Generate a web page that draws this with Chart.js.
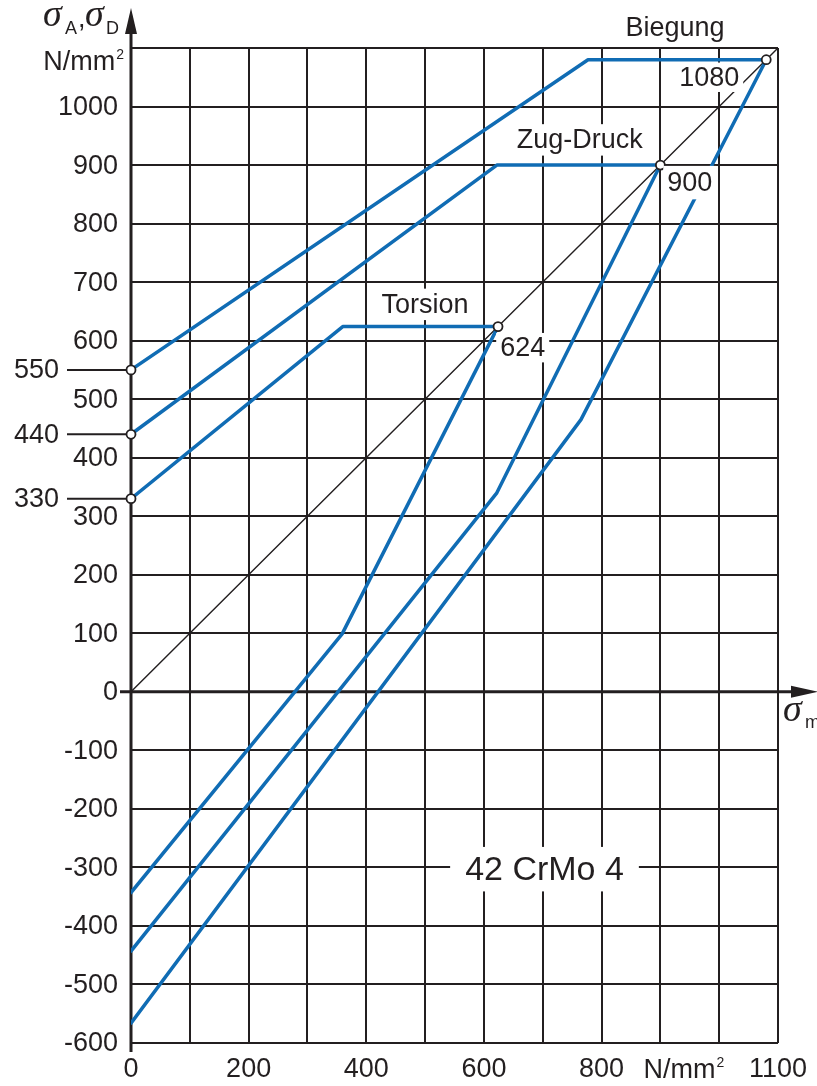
<!DOCTYPE html>
<html>
<head>
<meta charset="utf-8">
<script src="https://cdn.jsdelivr.net/npm/chart.js@4/dist/chart.umd.min.js"></script>
<style>
  html, body { margin: 0; padding: 0; background: #fff; }
  #wrap { width: 817px; height: 1086px; position: relative; }
</style>
</head>
<body>
<div id="wrap"><canvas id="smith"></canvas></div>
<script>
// Dauerfestigkeitsschaubild nach Smith – 42 CrMo 4 (σm gegen σA, σD in N/mm²)

// Grenzlinien je Beanspruchungsart: oben (σW -> Knick -> Fließgrenze), unten zurück bis σm = 0
const torsionX  = [0, 360, 624, 359, 0];
const torsionY  = [330, 624, 624, 99, -343];
const zugDruckX = [0, 622, 900, 622, 0];
const zugDruckY = [440, 900, 900, 340, -443];
const biegungX  = [0, 777, 1080, 765, 0];
const biegungY  = [550, 1080, 1080, 465, -566];

// 45°-Linie σ = σm
const diagonalX = [0, 1100];
const diagonalY = [0, 1100];

// Kennpunkte (offene Kreise)
const markerX = [0, 0, 0, 624, 900, 1080];
const markerY = [550, 440, 330, 624, 900, 1080];

// Achsbeschriftungen
const yTickValues = [-600, -500, -400, -300, -200, -100, 0, 100, 200, 300, 400, 500, 600, 700, 800, 900, 1000];
const xTickValues = [0, 200, 400, 600, 800, 1100];
const sideValues  = [550, 440, 330];

const INK = '#231f20';
const BLUE = '#106cb4';
const SANS = '"Liberation Sans", Arial, Helvetica, sans-serif';
const SERIF = '"Liberation Serif", "Times New Roman", serif';

const pts = (xs, ys) => xs.map((v, i) => ({ x: v, y: ys[i] }));

// Beschriftungen im Diagramm, mit weißem Hintergrund (Lage in Achswerten)
const notes = [
  { text: 'Biegung',   x: 925, y: 1135, padX: 4,  padY: 5, size: 27 },
  { text: '1080',      x: 983, y: 1050, padX: 4,  padY: 5, size: 27 },
  { text: 'Zug-Druck', x: 763, y: 943,  padX: 5,  padY: 6, size: 27 },
  { text: '900',       x: 950, y: 870,  padX: 4,  padY: 7, size: 27 },
  { text: 'Torsion',   x: 500, y: 662,  padX: 5,  padY: 6, size: 27 },
  { text: '624',       x: 666, y: 588,  padX: 4,  padY: 5, size: 27 },
  { text: '42 CrMo 4', x: 703, y: -303, padX: 15, padY: 10, size: 34 }
];

// Einheit mit kleiner, hochgestellter 2
function drawUnit(ctx, xRight, yMid, centered) {
  ctx.save();
  ctx.textBaseline = 'middle';
  ctx.textAlign = 'left';
  ctx.font = `27px ${SANS}`;
  const w = ctx.measureText('N/mm').width;
  ctx.font = `14px ${SANS}`;
  const w2 = ctx.measureText('2').width;
  const left = centered ? xRight - (w + w2 + 1) / 2 : xRight - w - w2 - 1;
  ctx.font = `27px ${SANS}`;
  ctx.fillText('N/mm', left, yMid + 1);
  ctx.font = `14px ${SANS}`;
  ctx.fillText('2', left + w + 1, yMid - 7);
  ctx.restore();
}

const decorations = {
  id: 'decorations',
  beforeDatasetsDraw(chart) {
    const { ctx, scales: { x, y } } = chart;
    const x0 = x.getPixelForValue(0);
    const y0 = y.getPixelForValue(0);
    ctx.save();
    ctx.strokeStyle = INK;
    ctx.fillStyle = INK;
    ctx.lineCap = 'butt';

    // Ordinate mit Pfeil
    ctx.lineWidth = 3;
    ctx.beginPath();
    ctx.moveTo(x0, y.bottom + 9);
    ctx.lineTo(x0, 30);
    ctx.stroke();
    ctx.beginPath();
    ctx.moveTo(x0, 8);
    ctx.lineTo(x0 - 6, 34);
    ctx.lineTo(x0 + 6, 34);
    ctx.closePath();
    ctx.fill();

    // Abszisse mit Pfeil
    ctx.beginPath();
    ctx.moveTo(x0 - 11, y0);
    ctx.lineTo(794, y0);
    ctx.stroke();
    ctx.beginPath();
    ctx.moveTo(818, y0);
    ctx.lineTo(791, y0 - 6);
    ctx.lineTo(791, y0 + 6);
    ctx.closePath();
    ctx.fill();

    // Hinweislinien für die Wechselfestigkeiten
    ctx.lineWidth = 2;
    sideValues.forEach(v => {
      const py = y.getPixelForValue(v);
      ctx.beginPath();
      ctx.moveTo(67, py);
      ctx.lineTo(x0, py);
      ctx.stroke();
    });
    ctx.restore();
  },
  afterDatasetsDraw(chart) {
    const { ctx, scales: { x, y } } = chart;
    ctx.save();
    ctx.textAlign = 'center';
    ctx.textBaseline = 'middle';
    notes.forEach(n => {
      ctx.font = `${n.size}px ${SANS}`;
      const w = ctx.measureText(n.text).width;
      const h = n.size * 0.72;
      const cx = x.getPixelForValue(n.x);
      const cy = y.getPixelForValue(n.y);
      ctx.fillStyle = '#fff';
      ctx.fillRect(cx - w / 2 - n.padX, cy - h / 2 - n.padY, w + 2 * n.padX, h + 2 * n.padY);
      ctx.fillStyle = INK;
      ctx.fillText(n.text, cx, cy + 1);
    });
    ctx.restore();
  },
  afterDraw(chart) {
    const { ctx, scales: { x, y } } = chart;
    ctx.save();
    ctx.fillStyle = INK;
    ctx.font = `27px ${SANS}`;
    ctx.textBaseline = 'middle';

    // Ordinatenwerte
    ctx.textAlign = 'right';
    yTickValues.forEach(v => ctx.fillText(String(v), x.left - 13, y.getPixelForValue(v) + 1));
    sideValues.forEach(v => ctx.fillText(String(v), 59, y.getPixelForValue(v) + 1));
    drawUnit(ctx, 124, 62, false);

    // Abszissenwerte
    ctx.textAlign = 'center';
    xTickValues.forEach(v => ctx.fillText(String(v), x.getPixelForValue(v), y.bottom + 27));
    drawUnit(ctx, x.getPixelForValue(940), y.bottom + 27, true);

    // Achsentitel σA, σD
    ctx.textAlign = 'left';
    ctx.textBaseline = 'alphabetic';
    ctx.font = `italic 38px ${SERIF}`;
    ctx.fillText('σ', 43, 26);
    ctx.font = `18px ${SANS}`;
    ctx.fillText('A', 65, 34);
    ctx.font = `27px ${SANS}`;
    ctx.fillText(',', 78, 27);
    ctx.font = `italic 38px ${SERIF}`;
    ctx.fillText('σ', 85, 26);
    ctx.font = `18px ${SANS}`;
    ctx.fillText('D', 106, 34);

    // Achsentitel σm
    ctx.font = `italic 38px ${SERIF}`;
    ctx.fillText('σ', 783, 721);
    ctx.font = `18px ${SANS}`;
    ctx.fillText('m', 805, 728);
    ctx.restore();
  }
};

const lineStyle = {
  showLine: true,
  fill: false,
  tension: 0,
  pointRadius: 0,
  pointHoverRadius: 0,
  borderColor: BLUE,
  borderWidth: 3.5,
  borderJoinStyle: 'round',
  borderCapStyle: 'round'
};

new Chart(document.getElementById('smith'), {
  type: 'scatter',
  data: {
    datasets: [
      {
        label: 'Kennpunkte',
        data: pts(markerX, markerY),
        showLine: false,
        pointRadius: 4.5,
        pointBackgroundColor: '#fff',
        pointBorderColor: INK,
        pointBorderWidth: 1.8,
        clip: false
      },
      { label: 'Torsion',   data: pts(torsionX, torsionY),   ...lineStyle },
      { label: 'Zug-Druck', data: pts(zugDruckX, zugDruckY), ...lineStyle },
      { label: 'Biegung',   data: pts(biegungX, biegungY),   ...lineStyle },
      {
        label: 'σ = σm',
        data: pts(diagonalX, diagonalY),
        ...lineStyle,
        borderColor: INK,
        borderWidth: 1.4
      }
    ]
  },
  options: {
    responsive: true,
    maintainAspectRatio: false,
    animation: false,
    events: [],
    layout: { padding: { left: 131, right: 39, top: 48, bottom: 43 } },
    plugins: { legend: { display: false }, tooltip: { enabled: false } },
    scales: {
      x: {
        type: 'linear',
        min: 0,
        max: 1100,
        ticks: { display: false, stepSize: 100 },
        grid: { color: INK, lineWidth: 2, drawTicks: false },
        border: { display: false }
      },
      y: {
        type: 'linear',
        min: -600,
        max: 1100,
        ticks: { display: false, stepSize: 100 },
        grid: { color: INK, lineWidth: 2, drawTicks: false },
        border: { display: false }
      }
    }
  },
  plugins: [decorations]
});
</script>
</body>
</html>
